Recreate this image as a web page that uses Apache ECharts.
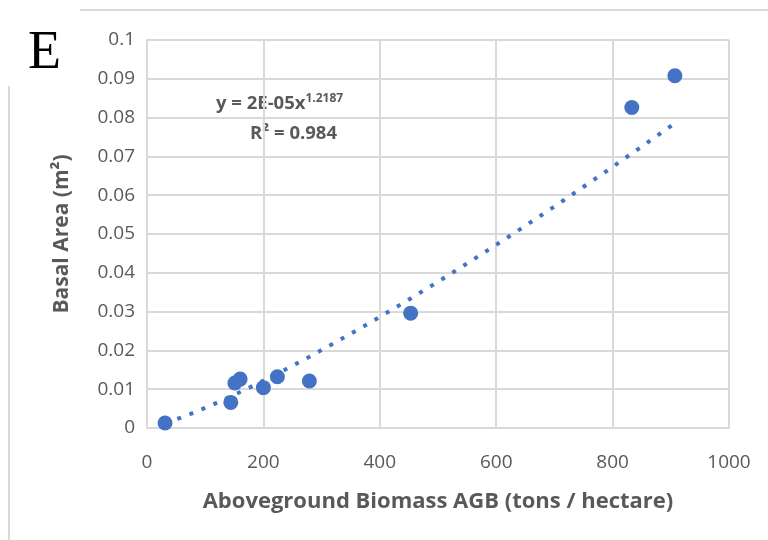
<!DOCTYPE html>
<html><head><meta charset="utf-8">
<script src="https://cdn.jsdelivr.net/npm/echarts@6/dist/echarts.min.js"></script>
<style>html,body{margin:0;padding:0;background:#fff}#c{width:768px;height:540px}</style>
</head><body><div id="c"></div>
<script>
var agb = [31, 144, 151, 160, 200, 224, 279, 453, 833, 907];
var basal = [0.0013, 0.0066, 0.0116, 0.0126, 0.0104, 0.0132, 0.0121, 0.0296, 0.0826, 0.0908];
var xTicks = [0, 200, 400, 600, 800, 1000];
var yTicks = [0, 0.01, 0.02, 0.03, 0.04, 0.05, 0.06, 0.07, 0.08, 0.09, 0.1];
var eqText = ['y = 2E-05x', '1.2187', 'R² = 0.984'];

// power-law least squares fit in log space (as a spreadsheet power trendline)
var n = agb.length, sx = 0, sy = 0, sxx = 0, sxy = 0;
for (var i = 0; i < n; i++) {
  var lx = Math.log(agb[i]), ly = Math.log(basal[i]);
  sx += lx; sy += ly; sxx += lx * lx; sxy += lx * ly;
}
var b = (n * sxy - sx * sy) / (n * sxx - sx * sx);
var a = Math.exp((sy - b * sx) / n);
var xmin = Math.min.apply(null, agb), xmax = Math.max.apply(null, agb);
var trend = [];
for (var k = 0; k <= 60; k++) {
  var x = xmin + (xmax - xmin) * k / 60;
  trend.push([x, a * Math.pow(x, b)]);
}

var gray = '#595959', grid = '#d9d9d9', blue = '#4472C4';
var FF = '"Open Sans"';
var chart = echarts.init(document.getElementById('c'));
chart.setOption({
  animation: false,
  backgroundColor: '#fff',
  grid: {left: 147, right: 39, top: 40, bottom: 112, containLabel: false},
  xAxis: {
    type: 'value', min: 0, max: 1000, interval: 200,
    axisLine: {show: true, lineStyle: {color: grid, width: 2}},
    axisTick: {show: false},
    splitLine: {show: true, lineStyle: {color: grid, width: 2}},
    axisLabel: {color: gray, fontFamily: FF, fontSize: 19, margin: 25,
      formatter: function (v) { return String(xTicks[xTicks.indexOf(v)]); }},
    name: 'Aboveground Biomass AGB (tons / hectare)',
    nameLocation: 'middle', nameGap: 63,
    nameTextStyle: {color: gray, fontFamily: FF, fontWeight: 'bold', fontSize: 22}
  },
  yAxis: {
    type: 'value', min: 0, max: 0.1, interval: 0.01,
    axisLine: {show: true, lineStyle: {color: grid, width: 2}},
    axisTick: {show: false},
    splitLine: {show: true, lineStyle: {color: grid, width: 2}},
    axisLabel: {color: gray, fontFamily: FF, fontSize: 19, margin: 12,
      formatter: function (v) {
        for (var j = 0; j < yTicks.length; j++) if (Math.abs(yTicks[j] - v) < 1e-9) return String(yTicks[j]);
        return '';
      }},
    name: 'Basal Area (m²)',
    nameLocation: 'middle', nameGap: 74, nameRotate: 90,
    nameTextStyle: {color: gray, fontFamily: FF, fontWeight: 'bold', fontSize: 21}
  },
  graphic: [
    {type: 'line', shape: {x1: 80, y1: 10, x2: 768, y2: 10}, style: {stroke: '#d9d9d9', lineWidth: 2}},
    {type: 'line', shape: {x1: 9, y1: 86, x2: 9, y2: 540}, style: {stroke: '#d9d9d9', lineWidth: 2}},
    {type: 'text', left: 28, top: 27, style: {text: 'E', font: '54px "Liberation Serif"', fill: '#000'}},
    {type: 'text', left: 216, top: 93, style: {
      rich: {
        m: {fontFamily: FF, fontWeight: 'bold', fontSize: 18.5, fill: gray},
        s: {fontFamily: FF, fontWeight: 'bold', fontSize: 12, fill: gray, verticalAlign: 'top', padding: [0, 0, 9, 0]}
      },
      text: '{m|' + eqText[0] + '}{s|' + eqText[1] + '}'
    }},
    {type: 'text', left: 250, top: 124, style: {text: eqText[2], font: 'bold 18.5px "Open Sans"', fill: gray}}
  ],
  series: [
    {type: 'line', data: trend, showSymbol: false, smooth: false,
     lineStyle: {color: blue, width: 4, type: [4, 9], cap: 'butt'}, silent: true, z: 2},
    {type: 'scatter', data: agb.map(function (v, i) { return [v, basal[i]]; }),
     symbol: 'circle', symbolSize: 15, itemStyle: {color: blue, opacity: 1}, z: 3}
  ]
});
</script></body></html>
